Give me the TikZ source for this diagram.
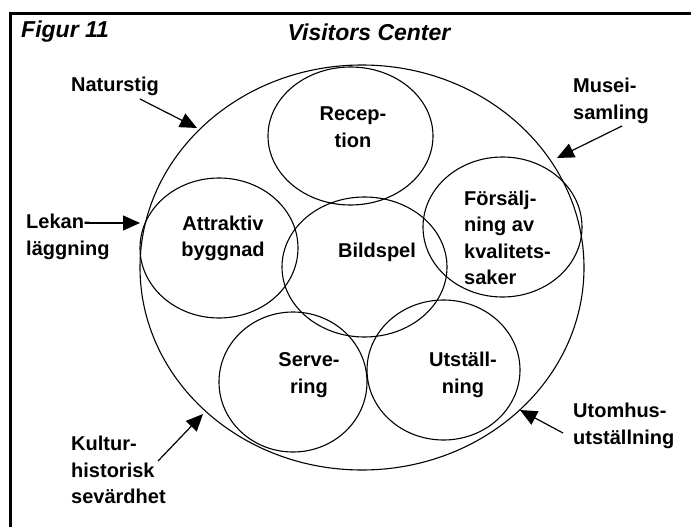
\documentclass[tikz,border=0pt]{standalone}
\usepackage{fontspec}
\setmainfont{Liberation Sans}
\usetikzlibrary{shapes.geometric,arrows.meta}
\begin{document}
\begin{tikzpicture}[x=1pt,y=-1pt,
  ring/.style={draw,ellipse,inner sep=0pt,line width=1.1pt},
  lbl/.style={font=\fontsize{20}{26.5}\selectfont\bfseries,inner sep=0pt},
  ttl/.style={font=\fontsize{23}{26}\selectfont\bfseries\itshape,inner sep=0pt},
  pointer/.style={line width=1.2pt,-{Triangle[length=17pt,width=15pt]}}]
\useasboundingbox (0,0) rectangle (691,527);
\draw[line width=3pt] (10.5,527) -- (10.5,13.5) -- (691,13.5);
% title
\node[ttl,anchor=west] (fig) at (21,32) {Figur 11};
\node[ttl] (title) at (369,32) {Visitors Center};
% circles
\node[ring,minimum width=444pt,minimum height=405pt] (outer) at (362,267.5) {};
\node[ring,minimum width=165pt,minimum height=138pt] (rec) at (350.5,136) {};
\node[ring,minimum width=158pt,minimum height=140pt] (att) at (219,248) {};
\node[ring,minimum width=165pt,minimum height=140pt] (bild) at (364.5,267) {};
\node[ring,minimum width=159pt,minimum height=140pt] (fors) at (502.5,227) {};
\node[ring,minimum width=148pt,minimum height=140pt] (serv) at (293,382) {};
\node[ring,minimum width=153pt,minimum height=140pt] (utst) at (443.5,370) {};
% inner texts
\node[lbl,align=center] (trec) at (353,127) {Recep-\\tion};
\node[lbl,align=center] (tatt) at (223,238.5) {Attraktiv\\byggnad};
\node[lbl] (tbild) at (377,252) {Bildspel};
\node[lbl,align=left,anchor=west] (tfors) at (464,238) {Försälj-\\ning av\\kvalitets-\\saker};
\node[lbl,align=center] (tserv) at (309,375) {Serve-\\ring};
\node[lbl,align=center] (tutst) at (463,375) {Utställ-\\ning};
% outside labels
\node[lbl] (natur) at (115,86) {Naturstig};
\node[lbl,align=left,anchor=west] (musei) at (573,101) {Musei-\\samling};
\node[lbl,align=left,anchor=west] (lekan) at (26,237) {Lekan-\\läggning};
\node[lbl,align=left,anchor=west] (kultur) at (71,470) {Kultur-\\historisk\\sevärdhet};
\node[lbl,align=left,anchor=west] (utom) at (573,426) {Utomhus-\\utställning};
% arrow ends
\coordinate (naturA) at (140,99);
\coordinate (naturB) at (197,128);
\coordinate (lekanA) at (88,223);
\coordinate (lekanB) at (140,223);
\coordinate (museiA) at (622,126);
\coordinate (museiB) at (557,158);
\coordinate (kulturA) at (158,461);
\coordinate (kulturB) at (203,414);
\coordinate (utomA) at (563,433);
\coordinate (utomB) at (520,410);
\draw[pointer] (naturA) -- (naturB);
\draw[pointer] (lekanA) -- (lekanB);
\draw[pointer] (museiA) -- (museiB);
\draw[pointer] (kulturA) -- (kulturB);
\draw[pointer] (utomA) -- (utomB);
\end{tikzpicture}
\end{document}
